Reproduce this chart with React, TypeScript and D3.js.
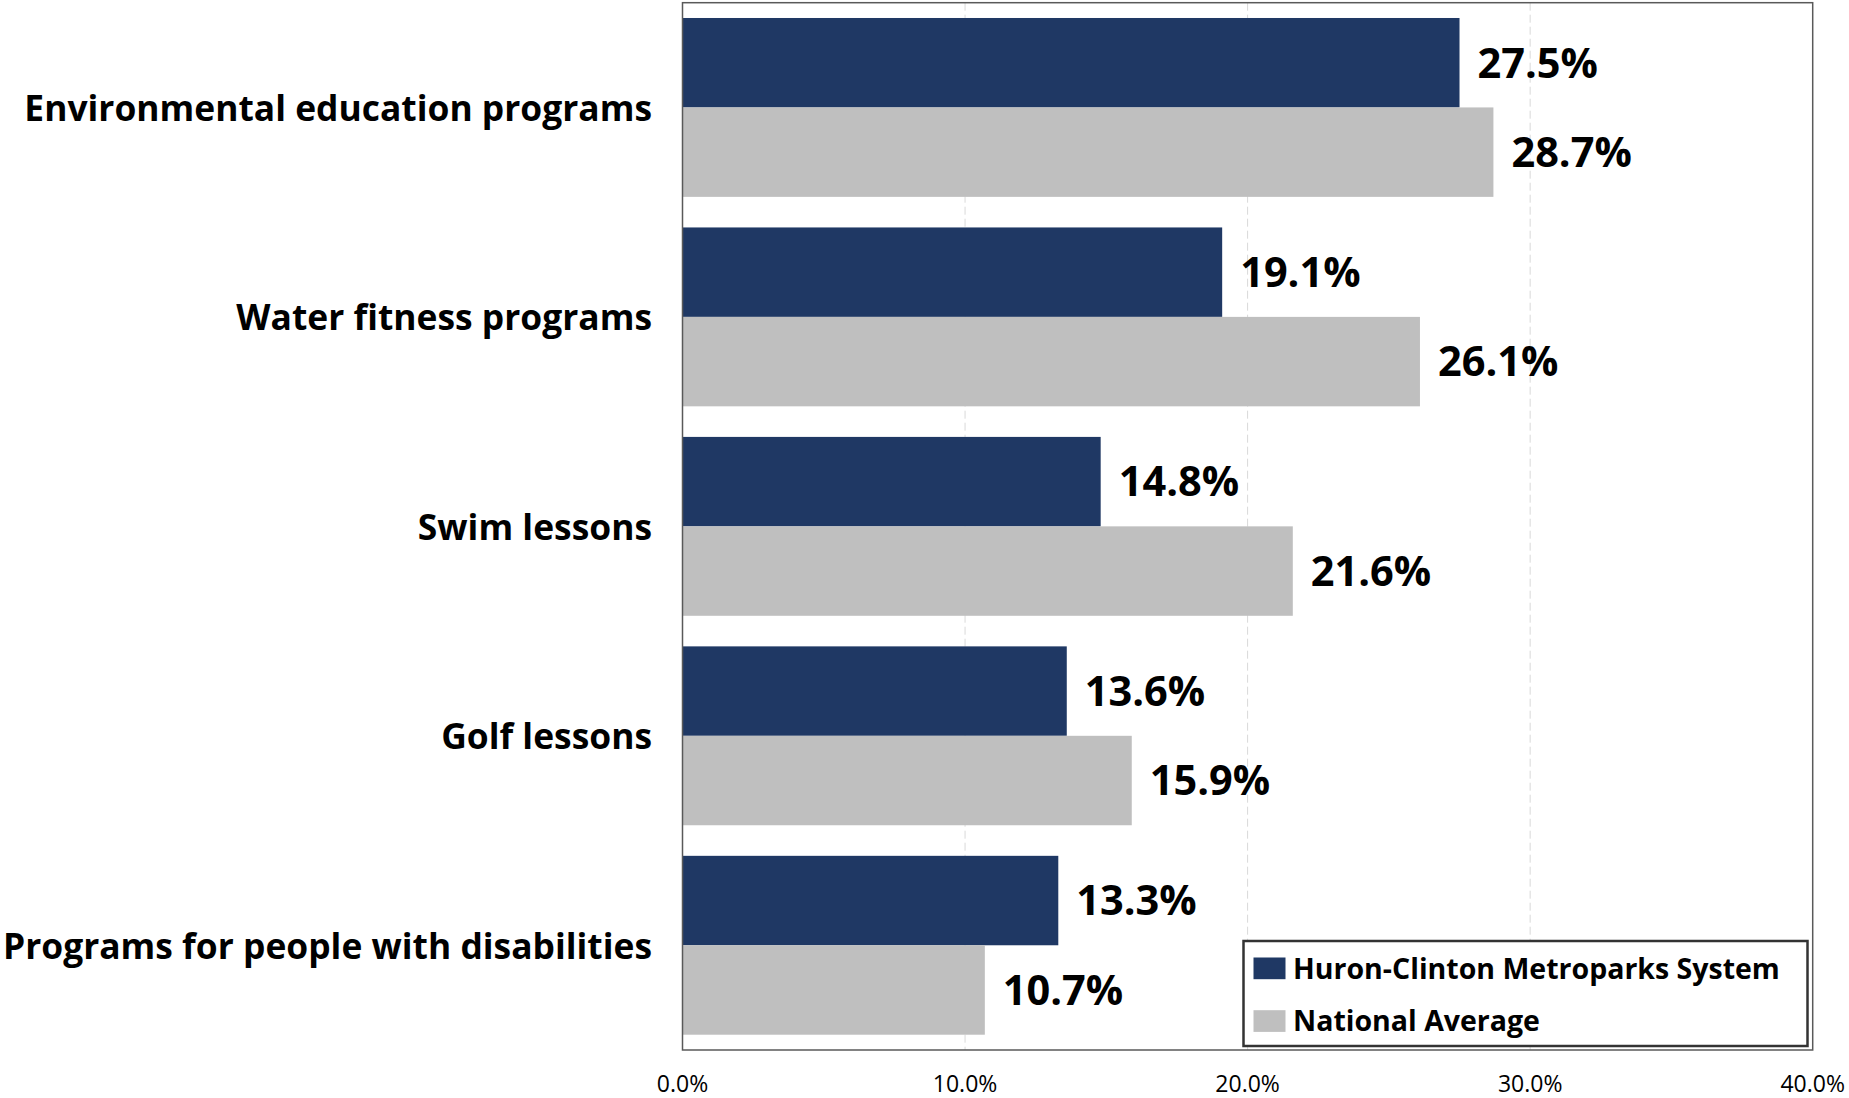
import React from "react";
import * as d3 from "d3";

const categories = [
  "Environmental education programs",
  "Water fitness programs",
  "Swim lessons",
  "Golf lessons",
  "Programs for people with disabilities",
];
const seriesNames = ["Huron-Clinton Metroparks System", "National Average"];
const huronValues = [27.5, 19.1, 14.8, 13.6, 13.3];
const nationalValues = [28.7, 26.1, 21.6, 15.9, 10.7];
const xTicks = [0, 10, 20, 30, 40];

const W = 1849;
const H = 1098;
const left = 682.5;
const right = 1812.7;
const top = 2.7;
const bottom = 1050;
const colors = ["#1f3864", "#bfbfbf"];
const FONT = "'Open Sans', 'Noto Sans', sans-serif";

export default function App() {
  const x = d3.scaleLinear().domain([0, 40]).range([left, right]);
  const y0 = d3
    .scaleBand<string>()
    .domain(categories)
    .range([top, bottom])
    .paddingInner(0.146)
    .paddingOuter(0.073);
  const y1 = d3
    .scaleBand<string>()
    .domain(seriesNames)
    .range([0, y0.bandwidth()]);
  const allValues = [huronValues, nationalValues];
  const fmt = (v: number) => d3.format(".1f")(v) + "%";
  const labelRight = 652;

  return (
    <div style={{ position: "absolute", left: 0, top: 0 }}>
      <svg width={W} height={H} style={{ display: "block", background: "#fff" }}>
        <rect x={0} y={0} width={W} height={H} fill="#fff" />
        {xTicks.slice(1, -1).map((t) => (
          <line
            key={"g" + t}
            x1={x(t)}
            x2={x(t)}
            y1={top}
            y2={bottom}
            stroke="#d9d9d9"
            strokeWidth={1}
            strokeDasharray="8,4"
          />
        ))}
        {categories.map((c, i) => (
          <g key={c}>
            {seriesNames.map((s, j) => {
              const v = allValues[j][i];
              const yy = (y0(c) as number) + (y1(s) as number);
              const bh = y1.bandwidth();
              return (
                <g key={s}>
                  <rect
                    x={x(0)}
                    y={yy}
                    width={x(v) - x(0)}
                    height={bh}
                    fill={colors[j]}
                  />
                  <text
                    x={x(v) + 18}
                    y={yy + bh / 2 + 14.8}
                    fontFamily={FONT}
                    fontWeight={700}
                    fontSize={41.5}
                    fill="#000"
                  >
                    {fmt(v)}
                  </text>
                </g>
              );
            })}
            <text
              transform={`translate(${labelRight},${(y0(c) as number) + y0.bandwidth() / 2 + 13.5}) scale(0.97,1)`}
              textAnchor="end"
              fontFamily={FONT}
              fontWeight={700}
              fontSize={36.5}
              fill="#000"
            >
              {c}
            </text>
          </g>
        ))}
        <rect
          x={left}
          y={top}
          width={right - left}
          height={bottom - top}
          fill="none"
          stroke="#595959"
          strokeWidth={1.5}
        />
        {xTicks.map((t) => (
          <text
            key={"t" + t}
            x={x(t)}
            y={1092}
            textAnchor="middle"
            fontFamily={FONT}
            fontSize={23}
            fill="#000"
          >
            {fmt(t)}
          </text>
        ))}
        <g>
          <rect
            x={1243.5}
            y={941}
            width={564}
            height={105}
            fill="#fff"
            stroke="#333"
            strokeWidth={2.5}
          />
          {seriesNames.map((s, j) => (
            <g key={"l" + s}>
              <rect
                x={1253.5}
                y={957.5 + j * 52.7}
                width={32}
                height={21.7}
                fill={colors[j]}
              />
              <text
                x={1293}
                y={978.5 + j * 52.7}
                fontFamily={FONT}
                fontWeight={700}
                fontSize={28.5}
                fill="#000"
              >
                {s}
              </text>
            </g>
          ))}
        </g>
      </svg>
    </div>
  );
}
